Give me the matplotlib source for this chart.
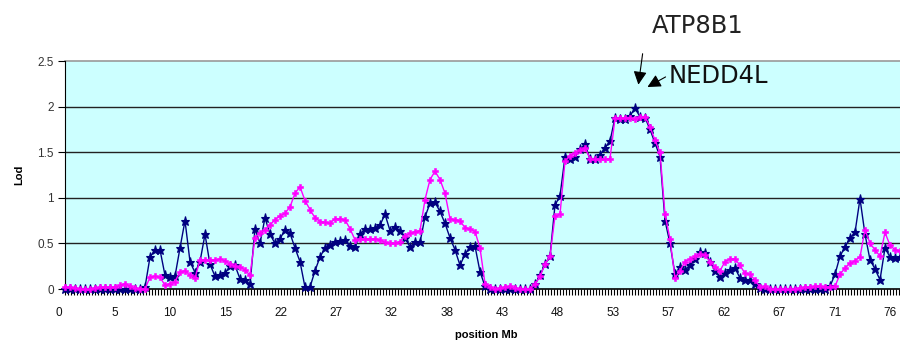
# import packages
import numpy as np
import matplotlib
matplotlib.use('Agg')
from matplotlib import pyplot as plt
from matplotlib.ticker import MultipleLocator
from matplotlib.transforms import blended_transform_factory

# lod scores along the chromosome, one value per marker position
lod_navy = [
    0.0, 0.0, 0.0, 0.0, 0.0, 0.0, 0.0, 0.0, 0.0, 0.0, 0.0, 0.0,
    0.0, 0.0, 0.0, 0.0, 0.02, 0.35, 0.43, 0.43, 0.15, 0.13, 0.14, 0.45,
    0.75, 0.30, 0.18, 0.30, 0.60, 0.27, 0.14, 0.15, 0.17, 0.25, 0.26, 0.11,
    0.10, 0.05, 0.66, 0.50, 0.78, 0.60, 0.50, 0.55, 0.65, 0.61, 0.45, 0.30,
    0.02, 0.02, 0.20, 0.35, 0.45, 0.48, 0.52, 0.53, 0.54, 0.47, 0.46, 0.60,
    0.66, 0.66, 0.67, 0.70, 0.82, 0.64, 0.68, 0.64, 0.56, 0.46, 0.51, 0.51,
    0.79, 0.94, 0.95, 0.85, 0.72, 0.56, 0.43, 0.26, 0.38, 0.46, 0.47, 0.19,
    0.03, 0.0, 0.0, 0.0, 0.0, 0.0, 0.0, 0.0, 0.0, 0.0, 0.05, 0.15,
    0.27, 0.36, 0.92, 1.02, 1.45, 1.42, 1.45, 1.53, 1.59, 1.42, 1.42, 1.47,
    1.55, 1.62, 1.88, 1.86, 1.86, 1.90, 1.98, 1.89, 1.88, 1.75, 1.60, 1.45,
    0.75, 0.50, 0.16, 0.24, 0.21, 0.26, 0.33, 0.41, 0.40, 0.30, 0.20, 0.13,
    0.17, 0.21, 0.23, 0.12, 0.10, 0.10, 0.06, 0.01, 0.0, 0.0, 0.0, 0.0,
    0.0, 0.0, 0.0, 0.0, 0.0, 0.0, 0.0, 0.0, 0.0, 0.03, 0.16, 0.36,
    0.46, 0.56, 0.62, 0.99, 0.60, 0.32, 0.22, 0.10, 0.45, 0.35, 0.34, 0.35,
]

lod_pink = [
    0.02, 0.02, 0.01, 0.0, 0.0, 0.0, 0.01, 0.02, 0.02, 0.02, 0.02, 0.04,
    0.06, 0.03, 0.01, 0.0, 0.0, 0.13, 0.14, 0.13, 0.04, 0.06, 0.08, 0.19,
    0.20, 0.15, 0.12, 0.32, 0.32, 0.32, 0.32, 0.33, 0.31, 0.27, 0.25, 0.24,
    0.21, 0.15, 0.56, 0.61, 0.65, 0.70, 0.76, 0.80, 0.83, 0.90, 1.05, 1.12,
    0.97, 0.87, 0.78, 0.74, 0.73, 0.72, 0.77, 0.77, 0.76, 0.66, 0.54, 0.55,
    0.55, 0.55, 0.55, 0.54, 0.51, 0.50, 0.50, 0.52, 0.58, 0.61, 0.63, 0.64,
    0.98, 1.20, 1.29, 1.20, 1.05, 0.77, 0.76, 0.75, 0.67, 0.66, 0.63, 0.45,
    0.06, 0.02, 0.0, 0.01, 0.02, 0.03, 0.01, 0.0, 0.0, 0.0, 0.05, 0.14,
    0.27, 0.36, 0.80, 0.82, 1.40, 1.46, 1.49, 1.52, 1.55, 1.43, 1.42, 1.42,
    1.42, 1.43, 1.87, 1.87, 1.88, 1.88, 1.86, 1.89, 1.89, 1.78, 1.63, 1.50,
    0.82, 0.55, 0.12, 0.20, 0.30, 0.33, 0.36, 0.38, 0.37, 0.30, 0.24, 0.20,
    0.30, 0.33, 0.33, 0.26, 0.17, 0.16, 0.10, 0.02, 0.03, 0.0, 0.0, 0.0,
    0.0, 0.0, 0.0, 0.01, 0.02, 0.02, 0.03, 0.03, 0.02, 0.02, 0.03, 0.16,
    0.23, 0.28, 0.31, 0.35, 0.65, 0.50, 0.43, 0.36, 0.62, 0.48, 0.43, 0.42,
]

# category labels shown every eleventh marker or so
x_labels = ['0', '5', '10', '15', '22', '27', '32', '38',
            '43', '48', '53', '57', '62', '67', '71', '76']
label_start = -1.2
label_step = 11.08

x = np.arange(len(lod_navy))

fig = plt.figure(figsize=(9, 3.42), dpi=100)
ax = fig.add_axes([65 / 900, 53 / 342, 835 / 900, 228 / 342])
ax.set_facecolor('#CCFFFF')

# horizontal grid lines
for yv in [0.5, 1.0, 1.5, 2.0]:
    ax.axhline(yv, color='#222222', lw=1.0, zorder=1)
ax.axhline(2.5, color='#999999', lw=1.2, zorder=1, clip_on=False)

ax.plot(x, lod_navy, color='#000080', lw=1.0, marker='*', ms=6.5,
        markeredgewidth=0.8, zorder=3, clip_on=False)
ax.plot(x, lod_pink, color='#FF00FF', lw=1.0, marker='P', ms=5,
        markeredgewidth=0.4, zorder=4, clip_on=False)

ax.set_xlim(0, len(lod_navy) - 1)
ax.set_ylim(0, 2.5)

# axis styling
for side in ['top', 'right']:
    ax.spines[side].set_visible(False)
ax.spines['left'].set_color('black')
ax.spines['bottom'].set_color('black')
ax.spines['bottom'].set_linewidth(1.2)

ax.set_yticks([0, 0.5, 1, 1.5, 2, 2.5])
ax.set_yticklabels(['0', '0.5', '1', '1.5', '2', '2.5'],
                   fontsize=8.5, color='#333333', family='Liberation Sans')
ax.tick_params(axis='y', length=5, width=0.8, pad=3)

ax.set_xticks([])
ax.xaxis.set_minor_locator(MultipleLocator(0.6))
ax.tick_params(axis='x', which='minor', length=4, width=0.8,
               direction='out', color='black')

trans = blended_transform_factory(ax.transData, ax.transAxes)
for i, lab in enumerate(x_labels):
    ax.text(label_start + i * label_step, -0.105, lab, transform=trans,
            ha='center', va='center', fontsize=8.5, color='#111111',
            family='Liberation Sans', clip_on=False)

fig.text(19 / 900, 1 - 175 / 342, 'Lod', rotation=90, ha='center',
         va='center', fontsize=8, fontweight='bold', family='Liberation Sans')
fig.text(486 / 900, 1 - 335 / 342, 'position Mb', ha='center', va='center',
         fontsize=8, fontweight='bold', family='Liberation Sans')

# gene labels with arrows pointing at the peak
ax.text(117.4, 2.81, 'ATP8B1', fontsize=17.5, family='DejaVu Sans',
        color='#222222', ha='left', va='baseline', clip_on=False)
ax.text(120.8, 2.26, 'NEDD4L', fontsize=17.5, family='DejaVu Sans',
        color='#111111', ha='left', va='baseline', clip_on=False)
ax.annotate('', xy=(114.6, 2.21), xytext=(115.6, 2.61),
            arrowprops=dict(arrowstyle='-|>', color='black', lw=0.8,
                            mutation_scale=20), annotation_clip=False)
ax.annotate('', xy=(116.0, 2.20), xytext=(120.6, 2.34),
            arrowprops=dict(arrowstyle='-|>', color='black', lw=0.8,
                            mutation_scale=20), annotation_clip=False)

plt.savefig('out.png', dpi=100)
